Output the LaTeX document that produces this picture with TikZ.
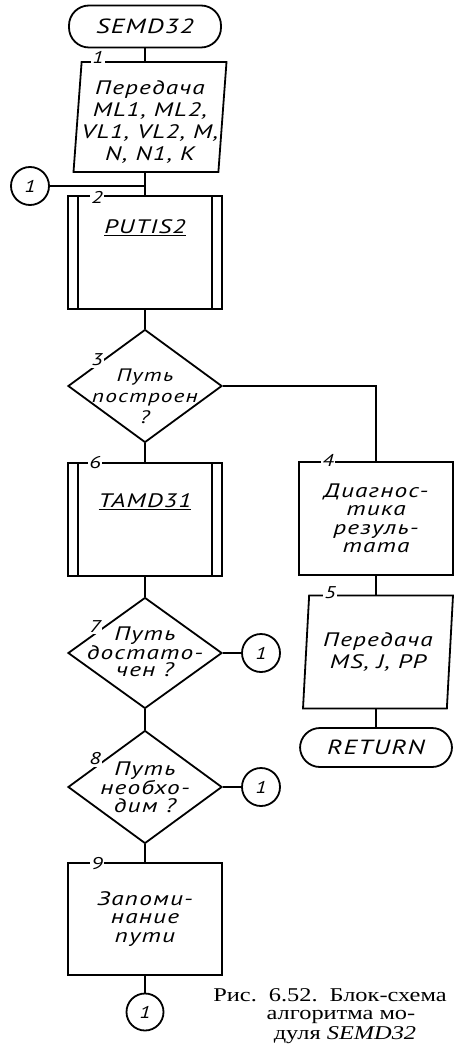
\documentclass[tikz,border=0pt]{standalone}
\usepackage{fontspec}
\newfontfamily\draftfont{PT Sans}[Script=Cyrillic, Language=Russian,
    FakeStretch=1.3, LetterSpace=6]
\newfontfamily\capfont{Liberation Serif}[FakeStretch=1.25]
\usetikzlibrary{shapes.geometric}

\begin{document}
\begin{tikzpicture}[x=1pt, y=-1pt, line width=1.8pt,
    term/.style={draw, rounded corners=20pt, minimum width=152pt,
        minimum height=42pt, inner sep=0pt,
        font=\draftfont\itshape\fontsize{20.5}{22}\selectfont},
    io/.style={draw, trapezium, trapezium stretches body,
        minimum height=110pt, inner sep=0pt, align=center,
        font=\draftfont\itshape\fontsize{19.5}{22}\selectfont},
    proc/.style={draw, minimum width=154pt, minimum height=113pt,
        inner sep=0pt, align=center,
        font=\draftfont\itshape\fontsize{19.5}{18.5}\selectfont},
    sub/.style={proc, path picture={
            \draw ([xshift=10pt]path picture bounding box.north west)
                -- ([xshift=10pt]path picture bounding box.south west);
            \draw ([xshift=-10pt]path picture bounding box.north east)
                -- ([xshift=-10pt]path picture bounding box.south east);
        }},
    dec/.style={draw, diamond, minimum width=154pt, minimum height=113pt,
        inner sep=0pt},
    txt/.style={align=center, inner sep=0pt,
        font=\draftfont\itshape\fontsize{19.5}{17.5}\selectfont},
    conn/.style={draw, circle, minimum size=38pt, inner sep=0pt,
        font=\draftfont\itshape\fontsize{17}{17}\selectfont},
    num/.style={fill=white, inner sep=1.5pt,
        font=\draftfont\itshape\fontsize{17}{17}\selectfont},
    caption/.style={anchor=base, inner sep=0pt,
        font=\capfont\fontsize{19.5}{19}\selectfont}
]
    \useasboundingbox (0,0) rectangle (459,1048);

    % main column
    \node[term] (start) at (145, 26.5) {SEMD32};
    \node[io, trapezium left angle=85, trapezium right angle=95,
        minimum width=145pt] (io1) at (150, 117)
        {\rule{0pt}{24pt}Передача\\ML1, ML2,\\VL1, VL2, M,\\N, N1, K};
    \node[conn] (c1) at (30, 186) {1};
    \node[sub] (sub2) at (145, 252.5) {};
    \node[txt] (sub2t) at (145, 228) {\underline{PUTIS2}};
    \node[dec] (d3) at (145, 386) {};
    \node[txt, font=\draftfont\itshape\fontsize{18}{21}\selectfont]
        (d3t) at (145, 396) {Путь\\построен\\?};
    \node[sub] (sub6) at (145, 519.5) {};
    \node[txt] (sub6t) at (145, 502) {\underline{TAMD31}};
    \node[dec, minimum height=111pt] (d7) at (145, 653) {};
    \node[txt] (d7t) at (145, 652) {Путь\\достато-\\чен ?};
    \node[conn] (c7) at (261, 653) {1};
    \node[dec] (d8) at (145, 787) {};
    \node[txt] (d8t) at (145, 787) {Путь\\необхо-\\дим ?};
    \node[conn] (c8) at (261, 787) {1};
    \node[proc, minimum height=112pt] (b9) at (145, 919)
        {Запоми-\\нание\\пути};
    \node[conn, minimum size=37pt] (c9) at (145, 1012) {1};

    % right column
    \node[proc] (b4) at (376, 518.5)
        {Диагнос-\\тика\\резуль-\\тата};
    \node[io, trapezium left angle=81, trapezium right angle=99,
        minimum width=150pt, minimum height=113pt] (io5) at (378, 652)
        {Передача\\MS, J, PP};
    \node[term, minimum height=39pt] (ret) at (376, 747.5) {RETURN};

    % connectors
    \draw (start.south) -- (start.south |- io1.north);
    \draw (start.south |- io1.south) -- (sub2.north);
    \draw (c1.east) -- (c1.east -| sub2.north);
    \draw (sub2.south) -- (d3.north);
    \draw (d3.east) -| (b4.north);
    \draw (d3.south) -- (sub6.north);
    \draw (sub6.south) -- (d7.north);
    \draw (d7.east) -- (c7.west);
    \draw (d7.south) -- (d8.north);
    \draw (d8.east) -- (c8.west);
    \draw (d8.south) -- (b9.north);
    \draw (b9.south) -- (c9.north);
    \draw (b4.south) -- (b4.south |- io5.north);
    \draw (b4.south |- io5.south) -- (ret.north);

    % block numbers
    \node[num] (n1) at (98, 57) {1};
    \node[num] (n2) at (97, 197) {2};
    \node[num] (n3) at (97, 360) {3};
    \node[num] (n4) at (328, 460) {4};
    \node[num] (n5) at (330, 593) {5};
    \node[num] (n6) at (95, 463) {6};
    \node[num] (n7) at (95, 627) {7};
    \node[num] (n8) at (95, 759) {8};
    \node[num] (n9) at (97, 864) {9};

    % caption
    \node[caption] (cap1) at (330, 1001)
        {Рис.\hspace{12pt}6.52.\hspace{12pt}Блок-схема};
    \node[caption] (cap2) at (341, 1019.5) {алгоритма мо-};
    \node[caption] (cap3) at (345, 1039) {дуля \textit{SEMD32}};
\end{tikzpicture}
\end{document}
